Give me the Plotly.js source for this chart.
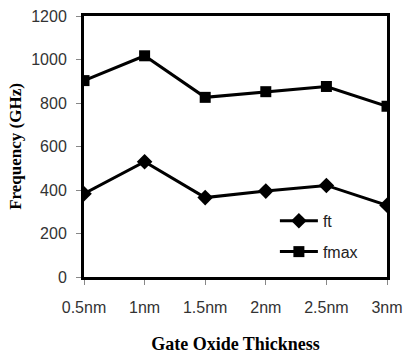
<!DOCTYPE html>
<html>
<head>
<meta charset="utf-8">
<script src="https://cdn.plot.ly/plotly-3.0.1.min.js"></script>
<style>html,body{margin:0;padding:0;background:#fff;}#chart{width:404px;height:354px;}</style>
</head>
<body>
<div id="chart"></div>
<script>
const categories = ["0.5nm", "1nm", "1.5nm", "2nm", "2.5nm", "3nm"];
const ftValues = [383, 530, 365, 395, 421, 330];
const fmaxValues = [903, 1017, 826, 852, 876, 785];
const yTicks = [0, 200, 400, 600, 800, 1000, 1200];

const traces = [
  {
    x: categories, y: ftValues, name: "ft", type: "scatter", mode: "lines+markers",
    legendgroup: "g1",
    line: {color: "#000", width: 3},
    marker: {symbol: "diamond", size: 12, color: "#000"}
  },
  {
    x: categories, y: fmaxValues, name: "fmax", type: "scatter", mode: "lines+markers",
    legendgroup: "g2",
    line: {color: "#000", width: 3},
    marker: {symbol: "square", size: 11, color: "#000"}
  }
];

const tickFont = {family: "Liberation Sans, Arial, sans-serif", size: 16, color: "#333"};

const layout = {
  width: 404, height: 354,
  margin: {l: 84, r: 17, t: 16, b: 77},
  paper_bgcolor: "#fff", plot_bgcolor: "#fff",
  showlegend: true,
  legend: {
    x: 0.63, y: 0.28, xanchor: "left", yanchor: "top",
    bgcolor: "rgba(0,0,0,0)",
    font: {family: "Liberation Sans, Arial, sans-serif", size: 16, color: "#222"},
    tracegroupgap: 7, itemwidth: 38
  },
  xaxis: {
    type: "category", range: [0, 5],
    tickvals: categories, ticktext: categories,
    showline: true, linecolor: "#000", linewidth: 3, mirror: true,
    showgrid: false, zeroline: false,
    ticks: "outside", ticklen: 5, tickcolor: "#888", tickwidth: 1,
    ticklabelstandoff: 9,
    tickfont: tickFont,
    title: {text: "<b>Gate Oxide Thickness</b>", font: {family: "Liberation Serif, Times New Roman, serif", size: 18, color: "#000"}, standoff: 27}
  },
  yaxis: {
    range: [0, 1200], tickvals: yTicks,
    showline: true, linecolor: "#000", linewidth: 3, mirror: true,
    showgrid: false, zeroline: false,
    ticks: "outside", ticklen: 5, tickcolor: "#888", tickwidth: 1,
    ticklabelstandoff: 6,
    tickfont: tickFont,
    title: {text: "<b>Frequency (GHz)</b>", font: {family: "Liberation Serif, Times New Roman, serif", size: 17, color: "#000"}, standoff: 6}
  }
};

Plotly.newPlot("chart", traces, layout, {staticPlot: true, displayModeBar: false});
</script>
</body>
</html>
